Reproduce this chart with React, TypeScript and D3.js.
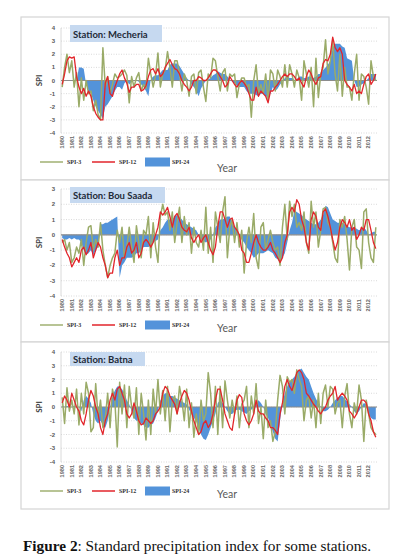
import React from "react";
import * as d3 from "d3";

// ---------- DATA (quarterly estimates, 1980 Q1 .. 2012 Q4) ----------
const YEARS = d3.range(1980, 2013);
const Y_TICKS_4 = [4, 3, 2, 1, 0, -1, -2, -3, -4];
const Y_TICKS_3 = [3, 2, 1, 0, -1, -2, -3, -4];
const STATIONS = ["Station: Mecheria", "Station: Bou Saada", "Station: Batna"];
const SERIES_NAMES = ["SPI-3", "SPI-12", "SPI-24"];

const MECHERIA_SPI3 = [
  -0.5, 1.0, 2.0, 0.6, 1.5, -0.5, 0.6, -2.0, 0.2, -1.5, 0.0, -1.0, -0.8, -2.3, -1.5, -2.6,
  -3.0, 2.5, -0.5, 0.3, -1.0, -0.3, 0.5, 0.2, 0.3, 0.5, 0.8, 0.4, -1.7, 0.3, -0.5, 0.2,
  0.6, -0.8, -0.3, -0.6, 1.7, 0.5, -0.5, 0.4, 2.1, -0.5, 0.5, 0.8, 2.2, 1.0, -0.5, 1.5,
  1.5, 0.5, -0.8, 0.5, 0.0, -1.2, 0.3, 0.5, -1.0, 0.6, 0.8, -0.5, -1.6, 0.5, 0.2, 1.7,
  1.5, 0.3, -0.8, 0.6, 0.9, -0.8, 0.5, 0.3, 0.5, -1.3, -0.3, 0.2, 0.2, -0.5, -0.3, -2.8,
  0.0, 1.2, -1.0, -0.3, -1.0, 0.5, -1.5, 0.8, 0.5, -0.8, 0.8, 0.3, -0.5, 1.2, -0.5, 1.2,
  0.5, -0.5, 0.8, 0.2, -1.5, 1.5, 0.5, -0.5, 1.0, -2.0, 1.7, -1.3, 0.5, 1.0, 3.1, 0.5,
  1.5, 3.0, 0.5, -0.8, 2.0, -1.2, 1.0, -0.5, -0.5, -1.5, 0.5, 2.0, -1.5, 0.5, 0.3, -0.5,
  -1.8, 1.5, 0.3, 0.0,
];
const MECHERIA_SPI12 = [
  -0.3, 0.5, 1.5, 1.8, 1.7, 1.8, 0.3, -0.5, -1.0, -0.6, -1.2, -0.8, -1.2, -2.0, -2.5, -2.8,
  -3.0, -3.0, -0.2, 0.3, -1.0, -1.2, -0.5, 0.0, 0.5, 0.8, 0.2, -0.2, -0.9, -0.5, -0.5, -0.3,
  -0.3, -0.8, -0.7, -0.4, 0.3, 0.8, 0.9, 0.5, 0.9, 0.3, 0.5, 1.0, 1.3, 1.6, 1.2, 0.9,
  0.8, 0.5, 0.0, -0.3, -0.5, -0.8, -0.5, 0.0, 0.0, 0.3, 0.2, 0.0, 0.0, 0.2, 0.5, 0.8,
  0.8, 0.6, 0.3, 0.0, -0.5, -0.3, 0.3, 0.0, -0.3, -0.5, -0.2, 0.0, -0.2, -0.5, -1.0, -1.5,
  -1.5, -0.5, -1.2, -0.8, -1.0, -1.2, -1.7, -0.8, -0.8, -0.5, -0.3, 0.0, 0.3, 0.5, 0.3, 0.5,
  0.5, 0.3, 0.0, 0.2, -0.2, -0.5, 0.3, 0.8, 0.5, 0.0, -0.3, 0.2, 0.3, 1.3, 1.6, 1.5,
  2.0, 3.3, 2.5, 2.2, 2.5, 2.0, 0.0, -0.3, -0.5, -0.8, -0.3, -1.0, -0.8, -1.0, -0.3, 0.3,
  0.5, -0.3, 0.0, 0.5,
];
const MECHERIA_SPI24 = [
  0, 0, 0, 0, 0, 0, 0, 1.0, 1.0, 0.9, -0.3, -0.8, -1.0, -1.5, -2.0, -2.3,
  -2.6, -2.9, -2.0, -1.8, -1.5, -1.2, -0.8, -0.5, -0.5, -0.7, -0.2, 0.0, -0.3, -0.1, 0.0, 0.0,
  -0.1, -0.3, -0.5, -0.8, -1.2, 0.1, 0.3, 0.4, 0.4, 0.6, 0.8, 0.8, 0.8, 1.2, 1.3, 1.3,
  1.3, 1.1, 0.8, 0.5, 0.2, 0.0, -0.3, -0.5, -0.8, -1.2, -0.6, -0.3, 0.0, 0.1, 0.2, 0.4,
  0.5, 0.7, 0.6, 0.5, 0.5, 0.3, 0.1, -0.1, -0.2, -0.4, -0.5, -0.5, -0.5, -0.8, -1.0, -1.0,
  -1.0, -1.1, -1.2, -1.0, -1.0, -1.2, -1.3, -1.0, -0.5, -0.8, -0.6, -0.3, -0.1, 0.2, 0.3, 0.2,
  0.2, 0.0, 0.1, 0.3, 0.3, 0.2, 0.2, 0.3, 0.3, 0.2, 0.3, 0.5, 0.5, 0.8, 1.0, 1.2,
  1.5, 2.5, 2.8, 2.8, 2.8, 2.6, 2.5, 1.7, 1.6, 1.5, 0.0, -0.5, -0.5, -0.3, -0.2, 0.0,
  0.2, 0.5, 0.5, 0.5,
];

const BOUSAADA_SPI3 = [
  -0.5, -0.3, -1.0, -0.5, -1.8, -1.5, -0.8, -1.2, -0.3, -2.0, -0.5, 0.5, 0.6, -1.0, -0.3, -0.8,
  0.8, -1.0, -2.0, -2.8, -2.0, -1.5, -1.2, 0.3, -0.5, 0.5, -1.5, -0.8, 0.5, -0.8, -1.8, 0.6,
  -0.5, -1.5, 0.3, 0.0, 1.2, -1.5, 0.8, -0.8, -1.8, 1.2, 2.0, 1.3, 1.5, 0.3, 1.5, -0.5,
  0.8, 1.8, -0.5, 1.2, 0.0, 0.8, -1.2, 0.5, -0.5, -0.8, 0.3, -1.0, 1.8, -1.2, 0.5, -1.8,
  1.5, 0.5, -0.5, 1.5, 2.5, -1.5, 0.5, 1.0, -0.5, 0.8, -0.8, 0.3, -2.5, -0.5, 0.5, -0.5,
  1.4, -1.5, -2.2, 0.5, 0.8, -1.0, -0.3, 0.3, -0.5, -1.0, -0.8, -2.0, 0.5, 2.0, -0.3, 2.2,
  1.2, 2.0, 0.5, 0.8, 0.3, 1.5, -0.5, -1.2, 2.2, 0.5, 1.5, -0.8, 0.3, 1.7, 1.8, 0.8,
  0.5, -0.5, -1.5, -1.8, 1.0, 0.5, 1.2, -0.3, -2.3, 0.5, 1.0, -0.8, -1.0, -2.2, 1.5, 1.7,
  -0.5, -1.5, -1.8, 0.5,
];
const BOUSAADA_SPI12 = [
  -0.3, -0.8, -1.2, -1.5, -2.1, -1.8, -1.5, -1.8, -1.0, -0.8, -1.3, -1.0, -0.5, -1.5, -1.0, -0.5,
  -0.8, -1.5, -2.0, -2.8, -2.5, -2.5, -1.5, -1.0, -2.0, -1.5, -1.5, -0.8, -0.5, -1.2, -1.0, -0.5,
  -1.5, -1.2, -0.5, -0.3, -0.5, -0.8, -0.5, 0.0, 0.5, 1.5, 1.3, 1.5, 1.8, 1.2, 0.5, 1.2,
  1.4, 1.0, 0.5, 0.3, 0.2, 0.5, -0.2, -0.5, -0.2, 0.0, -0.5, -0.2, 0.0, -0.5, -1.0, -1.3,
  -0.8, 0.5, 1.5, 1.5, 1.0, 0.5, 1.0, 1.1, 0.5, 0.3, 0.0, -1.0, -1.2, -1.8, -1.8, -1.2,
  -0.5, 0.0, -0.5, -0.8, -1.0, -1.0, -0.8, -0.5, -1.0, -1.2, -1.5, -1.8, -1.5, -0.5, 0.0, 1.5,
  1.8, 1.5, 2.3, 2.0, 1.0, 0.5, -0.5, -1.0, 1.0, 1.5, 1.2, 0.5, 0.3, 1.5, 1.7, 1.2,
  0.5, -0.3, -1.0, -0.5, 0.5, 1.0, 0.8, 0.5, 1.0, 0.3, 0.5, -0.3, 0.0, 0.5, 0.3, 1.0,
  1.0, 0.3, -0.5, -0.9,
];
const BOUSAADA_SPI24 = [
  -0.2, -0.3, -0.3, -0.2, -0.3, -0.2, -0.3, -0.3, -0.5, -1.0, -1.3, -1.2, -1.0, -1.3, -1.0, -0.8,
  0.7, 0.7, 0.8, 0.8, 0.9, 1.0, 1.1, 1.2, -2.8, -2.0, -1.8, -1.5, -1.5, -1.5, -1.4, -1.2,
  -1.2, -1.0, -0.8, -0.8, -0.8, -0.7, -0.5, -0.4, -0.3, 0.3, 0.5, 0.8, 1.0, 1.0, 1.0, 1.2,
  1.3, 1.2, 1.0, 0.8, 0.7, 0.6, 0.5, 0.4, 0.3, 0.0, -0.3, -0.4, -0.5, -0.4, -0.3, 0.0,
  0.5, 0.7, 1.0, 1.0, 1.1, 1.2, 1.2, 0.8, 0.5, 0.3, 0.0, -0.3, -0.5, -0.8, -1.0, -1.2,
  -1.5, -1.4, -1.2, -1.2, -1.2, -1.1, -1.0, -1.1, -1.2, -1.5, -1.6, -1.8, -1.5, -1.2, -0.5, 0.3,
  0.8, 1.6, 1.5, 1.4, 1.3, 1.1, 1.0, 0.9, 0.8, 0.7, 0.7, 0.8, 1.0, 1.3, 1.9, 1.8,
  1.4, 1.0, 0.9, 0.8, 0.8, 0.8, 0.7, 0.6, 0.5, 0.5, 0.5, 0.4, 0.3, 0.4, 0.5, 0.3,
  0.0, 0.1, 0.2, 0.2,
];

const BATNA_SPI3 = [
  0.7, -1.2, 1.4, -0.3, 0.5, -0.5, 1.3, -1.3, 1.0, -0.5, 1.8, 1.0, -1.8, -1.5, 1.7, -0.8,
  0.5, -1.5, -0.8, 1.0, -1.5, 1.3, 0.5, -2.9, 1.8, -0.5, 1.6, -1.5, 1.5, 0.0, -0.8, 1.4,
  -2.0, 1.0, -0.5, -2.4, 0.5, -2.0, 1.3, -0.5, 2.0, -0.5, 1.2, -1.0, 1.5, -1.8, 0.5, 0.8,
  -0.5, 1.5, 0.5, -1.0, 1.3, -1.5, 0.3, -2.2, -0.5, -2.0, 0.5, -1.0, -0.5, 2.5, 1.0, -1.5,
  1.5, -2.0, 1.5, -1.5, 1.9, 0.5, -0.8, 0.5, -0.5, 0.8, -1.5, 0.2, 0.5, 1.5, -1.5, 0.8,
  -0.5, 1.7, -1.2, 0.0, -2.3, 0.5, -1.5, -1.0, -2.5, -1.8, 0.5, 2.3, 1.5, -0.5, 2.2, 1.8,
  2.0, 1.0, 2.7, 2.0, 1.5, -1.0, 0.5, 0.8, -0.8, 0.5, -1.5, 1.0, -1.2, 1.0, 1.6, 0.0,
  1.5, 1.3, -0.5, 0.3, 0.5, -1.5, 0.8, 1.7, -0.5, -1.5, 0.3, -0.5, 1.6, 0.5, -2.5, 0.5,
  -0.5, -1.5, -1.8, -2.0,
];
const BATNA_SPI12 = [
  0.3, 0.8, 0.5, 0.0, 1.0, 0.5, 0.0, -0.3, -1.0, -1.3, -0.5, 0.5, 1.2, 0.8, 0.0, -0.5,
  -1.5, -2.0, -1.0, -0.5, 0.5, 1.0, 0.5, 1.3, 1.5, 1.0, 0.5, -0.5, -0.8, -0.5, 0.3, -0.3,
  -1.0, -1.3, -1.2, -0.8, -1.0, -1.2, -1.0, -0.5, -0.3, 0.0, 1.0, 1.5, 1.3, 0.8, 0.5, 0.2,
  -0.5, 0.3, 0.8, 1.2, 1.0, 0.5, -0.3, -1.0, -1.5, -2.0, -1.8, -1.2, -1.0, -1.5, -1.2, -0.5,
  0.5, 1.3, 1.3, 0.5, -0.5, -1.0, -1.5, -1.7, -0.5, 0.5, 0.9, 0.7, -0.5, -1.0, -1.3, -1.0,
  -0.5, 0.5, -0.3, -0.5, -0.5, -0.8, -1.0, -1.5, -1.5, -1.7, -2.0, -0.5, 0.3, 1.5, 2.0, 1.5,
  1.2, 1.8, 2.5, 2.7, 2.5, 2.0, 1.0, 0.8, 0.5, 0.2, 0.0, -0.3, -0.5, -0.2, 0.0, 0.5,
  0.8, 1.0, 1.5, 0.5, 0.8, 1.0, 0.8, 0.5, -0.3, -0.5, -0.8, -0.5, 0.0, 0.5, 0.5, 0.3,
  -0.5, -1.0, -1.8, -2.2,
];
const BATNA_SPI24 = [
  0.1, 0.0, 0.1, 0.0, 0.0, 0.1, 0.0, 0.0, -0.3, 0.5, 0.8, 0.6, 0.3, -0.5, -1.0, -1.2,
  -1.0, -1.3, -1.5, -1.0, 0.0, 0.8, 1.2, 1.5, 1.5, 1.3, 1.0, 0.5, 0.2, -0.3, -0.8, -1.0,
  -1.0, -1.2, -1.3, -1.5, -1.5, -1.3, -1.2, -0.8, -0.3, 0.5, 0.8, 1.0, 1.0, 0.8, 0.8, 0.7,
  0.6, 0.5, 0.4, 0.3, 0.2, -0.2, -0.5, -0.8, -1.0, -1.5, -2.0, -2.3, -2.4, -2.0, -1.5, -1.0,
  -0.5, 0.3, 0.5, 0.3, 0.0, -0.3, -0.5, -0.5, -0.3, -0.2, -0.2, -0.3, -0.4, -0.5, -0.3, -0.2,
  0.0, 0.3, 0.5, 0.3, 0.0, -0.5, -0.8, -1.3, -1.8, -2.3, -2.5, -1.0, 0.3, 1.0, 1.5, 1.8,
  2.0, 2.2, 2.5, 2.7, 2.8, 2.5, 2.2, 2.0, 1.5, 1.0, 0.6, 0.3, 0.0, -0.3, -0.3, -0.2,
  0.0, 0.3, 0.5, 0.7, 0.8, 0.8, 0.6, 0.4, 0.2, 0.0, -0.3, -0.5, -0.3, 0.0, 0.3, 0.2,
  -0.5, -0.8, -0.9, -0.9,
];

const STATION_DATA = [
  [MECHERIA_SPI3, MECHERIA_SPI12, MECHERIA_SPI24],
  [BOUSAADA_SPI3, BOUSAADA_SPI12, BOUSAADA_SPI24],
  [BATNA_SPI3, BATNA_SPI12, BATNA_SPI24],
];

// ---------- LAYOUT ----------
const W = 412;
const H = 560;
const PLOT_LEFT = 61;
const PLOT_RIGHT = 377;

const PANELS = [
  { top: 17, bottom: 180, plotTop: 28, plotBottom: 133, ticks: Y_TICKS_4, labelsTop: 136, legendY: 162, yearY: 172, boxY: 25, boxH: 17, boxW: 92 },
  { top: 180, bottom: 342, plotTop: 189, plotBottom: 296, ticks: Y_TICKS_3, labelsTop: 299, legendY: 325, yearY: 332, boxY: 187, boxH: 16, boxW: 95 },
  { top: 342, bottom: 509, plotTop: 352, plotBottom: 462, ticks: Y_TICKS_4, labelsTop: 465, legendY: 491, yearY: 498, boxY: 352, boxH: 14, boxW: 75 },
];

const C_GREEN = "#9aab68";
const C_RED = "#e2252b";
const C_BLUE = "#5393da";
const C_AXIS = "#595959";

function Panel({ idx }: { idx: number }) {
  const p = PANELS[idx];
  const [s3, s12, s24] = STATION_DATA[idx];
  const x = d3.scaleLinear().domain([1980, 2013]).range([PLOT_LEFT, PLOT_RIGHT]);
  const y = d3
    .scaleLinear()
    .domain([d3.min(p.ticks) as number, d3.max(p.ticks) as number])
    .range([p.plotBottom, p.plotTop]);
  const t = (i: number) => 1980 + (i + 0.5) / 4;

  const line = d3
    .line<number>()
    .x((_, i) => x(t(i)))
    .y((d) => y(d));
  const area = d3
    .area<number>()
    .x((_, i) => x(t(i)))
    .y0(y(0))
    .y1((d) => y(d));

  const midY = (p.plotTop + p.plotBottom) / 2;
  const lx = 40;
  return (
    <g>
      <rect x={21} y={p.top} width={368} height={p.bottom - p.top} fill="white" stroke="#d4d4d4" strokeWidth={1.2} />
      {p.ticks.map((v) => (
        <g key={v}>
          <line x1={PLOT_LEFT} x2={PLOT_RIGHT} y1={y(v)} y2={y(v)} stroke="#d0d0d0" strokeWidth={0.8} strokeDasharray="1,1.5" />
          <text x={55} y={y(v)} textAnchor="end" dominantBaseline="central" fontSize={6} fontWeight="bold" fill={C_AXIS} fontFamily="Liberation Sans, Arial, sans-serif">
            {v}
          </text>
        </g>
      ))}
      <line x1={PLOT_LEFT} x2={PLOT_LEFT} y1={p.plotTop} y2={p.plotBottom} stroke="#d0d0d0" strokeWidth={0.8} />
      <rect x={70} y={p.boxY} width={p.boxW} height={p.boxH} fill="#c6d9f0" />
      <text x={73} y={p.boxY + p.boxH / 2 + 0.5} dominantBaseline="central" fontSize={9.5} fontWeight="bold" fill="#1e2a38" fontFamily="Lato, sans-serif">
        {STATIONS[idx]}
      </text>
      <path d={area(s24) || ""} fill={C_BLUE} />
      <line x1={PLOT_LEFT} x2={PLOT_RIGHT} y1={y(0)} y2={y(0)} stroke="#8c8c8c" strokeWidth={1.2} />
      <path d={line(s3) || ""} fill="none" stroke={C_GREEN} strokeWidth={1.5} strokeLinejoin="round" />
      <path d={line(s12) || ""} fill="none" stroke={C_RED} strokeWidth={1.3} strokeLinejoin="round" />
      {YEARS.map((yr) => {
        const xx = x(yr + 0.1);
        return (
          <text key={yr} x={xx} y={p.labelsTop} transform={`rotate(-90, ${xx}, ${p.labelsTop})`} textAnchor="end" dominantBaseline="central" fontSize={5.6} fontWeight="bold" fill="#6a6a6a" fontFamily="Liberation Sans, Arial, sans-serif">
            {yr}
          </text>
        );
      })}
      <text x={39} y={midY} transform={`rotate(-90, 39, ${midY})`} textAnchor="middle" dominantBaseline="central" fontSize={8} fontWeight="bold" fill="#404040" fontFamily="Lato, sans-serif">
        SPI
      </text>
      {/* legend */}
      <line x1={lx} x2={lx + 23} y1={p.legendY} y2={p.legendY} stroke={C_GREEN} strokeWidth={1.4} />
      <text x={lx + 27} y={p.legendY} dominantBaseline="central" fontSize={6} fontWeight="bold" fill="#333" fontFamily="Liberation Serif, serif">
        {SERIES_NAMES[0]}
      </text>
      <line x1={lx + 52} x2={lx + 75} y1={p.legendY} y2={p.legendY} stroke={C_RED} strokeWidth={1.5} />
      <text x={lx + 79} y={p.legendY} dominantBaseline="central" fontSize={6} fontWeight="bold" fill="#333" fontFamily="Liberation Serif, serif">
        {SERIES_NAMES[1]}
      </text>
      <rect x={lx + 105} y={p.legendY - 4.5} width={25} height={9} fill={C_BLUE} />
      <text x={lx + 132} y={p.legendY} dominantBaseline="central" fontSize={6} fontWeight="bold" fill="#333" fontFamily="Liberation Serif, serif">
        {SERIES_NAMES[2]}
      </text>
      <text x={227} y={p.yearY} textAnchor="middle" fontSize={10.5} fill={C_AXIS} fontFamily="Lato, sans-serif">
        Year
      </text>
    </g>
  );
}

export default function App() {
  return (
    <svg width={W} height={H} style={{ position: "absolute", left: 0, top: 0, background: "white" }}>
      <rect x={0} y={0} width={W} height={H} fill="white" />
      {PANELS.map((_, i) => (
        <Panel key={i} idx={i} />
      ))}
      <text x={23} y={551} fontSize={15.3} fill="#111" fontFamily="Liberation Serif, Times New Roman, serif">
        <tspan fontWeight="bold">Figure 2</tspan>
        <tspan>: Standard precipitation index for some stations.</tspan>
      </text>
    </svg>
  );
}
